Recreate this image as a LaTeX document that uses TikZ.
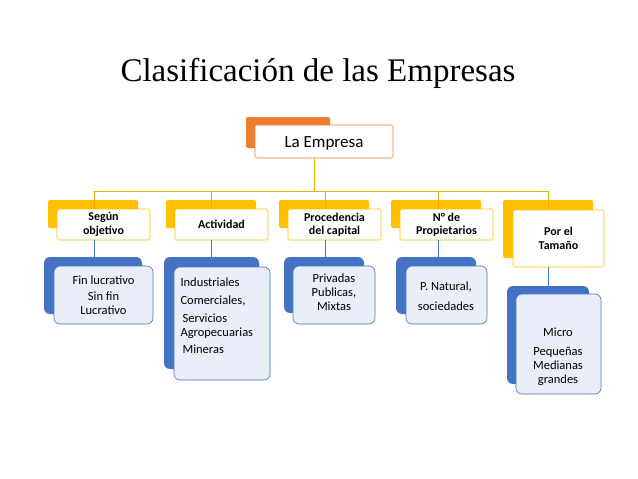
\documentclass[tikz,border=0pt]{standalone}
\usepackage{fontspec}
\setmainfont{Carlito}
\newfontfamily\titlefont{Liberation Serif}
\definecolor{org}{HTML}{ED7D31}
\definecolor{yel}{HTML}{FFC000}
\definecolor{blu}{HTML}{4472C4}
\definecolor{lblu}{HTML}{E9EEF8}
\begin{document}
\begin{tikzpicture}[x=1pt,y=-1pt,
  back/.style={rounded corners=1.5pt},
  ybox/.style={draw=yel,fill=white,rounded corners=1.5pt,line width=0.6pt},
  bbox/.style={draw=blu,fill=lblu,rounded corners=6pt,line width=0.6pt},
  conn/.style={draw=yel!90!black,line width=0.6pt},
  bconn/.style={draw=blu,line width=0.6pt},
  lab/.style={font=\bfseries\fontsize{12}{13.5}\selectfont,align=center},
  txt/.style={font=\fontsize{12.5}{14}\selectfont,align=center}]
\useasboundingbox (0,0) rectangle (638,479);
\node (title) at (318,73) {\titlefont\fontsize{33}{36}\selectfont Clasificación de las Empresas};
% root
\fill[org,back] (246,117) rectangle (330,148);
\draw[draw=org,fill=white,rounded corners=1.5pt,line width=0.6pt] (255,125) rectangle (393,158);
\node[font=\fontsize{17}{19}\selectfont] (root) at (324,143) {La Empresa};
\coordinate (rb) at (314,158);
\coordinate (rh) at (314,191);
\draw[conn] (rb) -- (rh);
\draw[conn] (94,191) coordinate (h1) -- (548,191) coordinate (h5);
% categories
\foreach \x/\name/\t in {48/c1/{Según\\objetivo},166/c2/Actividad,279/c3/{Procedencia\\del capital},391/c4/{N° de\\Propietarios}}{
  \fill[yel,back] (\x,200) rectangle ++(90,28);
  \draw[ybox] (\x+9,209) rectangle ++(93,31);
  \node[lab] (\name) at (\x+55.5,224.5) {\t};
}
\fill[yel,back] (503,200) rectangle (593,258);
\draw[ybox] (513,210) rectangle (604,267);
\node[lab] (c5) at (558.5,238.5) {Por el\\Tamaño};
\foreach \x in {94,211,325,438}{\draw[conn] (\x,191) -- (\x,209);}
\draw[conn] (548,191) -- (548,210);
% blue connectors
\draw[bconn] (94,240) -- (94,257);
\draw[bconn] (211,240) -- (211,257);
\draw[bconn] (325,240) -- (325,257);
\draw[bconn] (438,240) -- (438,257);
\draw[bconn] (548,267) -- (548,286);
% blue boxes
\fill[blu,rounded corners=6pt] (44,257) rectangle (142,314);
\draw[bbox] (54,266) rectangle (153,324);
\node[txt] (b1) at (103.5,295) {Fin lucrativo\\[2pt]Sin fin\\Lucrativo};
\fill[blu,rounded corners=6pt] (164,257) rectangle (259,369);
\draw[bbox] (174,267) rectangle (270,380);
\node[txt,align=left,anchor=north west] (b2) at (177,274) {Industriales\\[4pt]Comerciales,\\[4pt]\,Servicios\\Agropecuarias\\[3pt]\,Mineras};
\fill[blu,rounded corners=6pt] (284,257) rectangle (364,313);
\draw[bbox] (293,266) rectangle (375,324);
\node[txt] (b3) at (334,292) {Privadas\\Publicas,\\Mixtas};
\fill[blu,rounded corners=6pt] (396,257) rectangle (476,314);
\draw[bbox] (406,266) rectangle (487,324);
\node[txt] (b4) at (446,296) {P. Natural,\\[6pt]sociedades};
\fill[blu,rounded corners=6pt] (507,286) rectangle (589,384);
\draw[bbox] (516,294) rectangle (601,394);
\node[txt] (b5) at (558,357) {Micro\\[5pt]Pequeñas\\Medianas\\grandes};
\end{tikzpicture}
\end{document}
